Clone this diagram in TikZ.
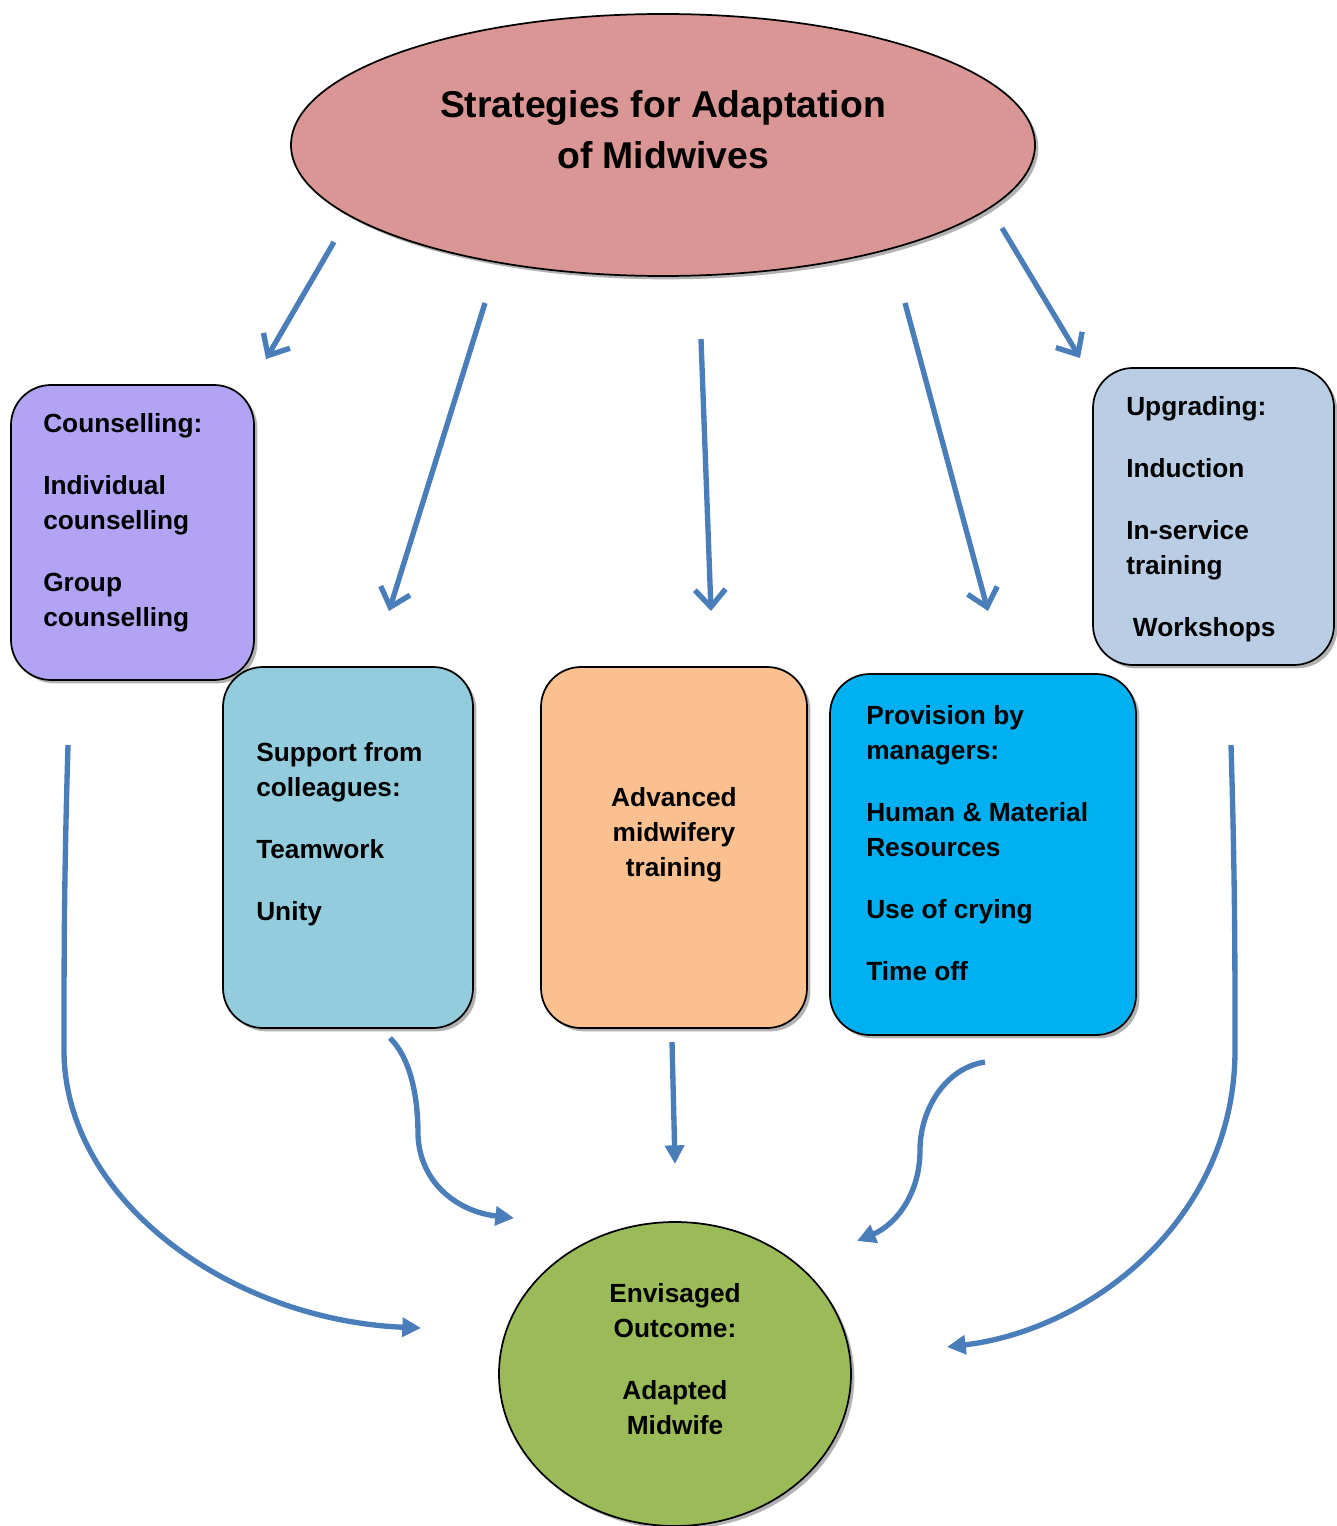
\documentclass[tikz,border=0pt]{standalone}
\usepackage{fontspec}
\setmainfont{Liberation Sans}
\usetikzlibrary{arrows.meta,shapes.geometric,shadows}
\definecolor{cred}{HTML}{D99694}
\definecolor{cpurple}{HTML}{B3A3F5}
\definecolor{ccyan}{HTML}{93CDDD}
\definecolor{corange}{HTML}{FAC090}
\definecolor{cblue}{HTML}{00B0F0}
\definecolor{csteel}{HTML}{B9CDE5}
\definecolor{cgreen}{HTML}{9BBB59}
\definecolor{arrowblue}{HTML}{4A7EBB}
\begin{document}
\begin{tikzpicture}[x=0.75pt,y=-0.75pt,
  shd/.style={drop shadow={shadow xshift=2.5pt,shadow yshift=-2.5pt,opacity=0.3,fill=black}},
  box/.style={draw=black,line width=1.3pt,rounded corners=30pt,inner sep=0pt,shd},
  oval/.style={ellipse,draw=black,line width=1.3pt,inner sep=0pt,shd},
  txt/.style={font=\fontsize{19.7}{26.25}\selectfont\bfseries,inner sep=0pt,align=left,anchor=north west},
  ctxt/.style={txt,align=center,anchor=north},
  conn/.style={draw=arrowblue,line width=4pt},
  barb/.style={conn,-{Straight Barb[length=13pt,width=23pt]}},
  tri/.style={conn,-{Triangle[length=14pt,width=14pt]}}]
\path[use as bounding box] (0,0) rectangle (1336,1526);

% shapes
\node[oval,fill=cred,minimum width=744*0.75pt,minimum height=262*0.75pt] (title) at (663,145) {};
\node[box,fill=cpurple,minimum width=243*0.75pt,minimum height=295*0.75pt] (couns) at (132.5,532.5) {};
\node[box,fill=csteel,minimum width=241*0.75pt,minimum height=297*0.75pt] (upgr) at (1213.5,516.5) {};
\node[box,fill=ccyan,minimum width=250*0.75pt,minimum height=361*0.75pt] (supp) at (348,847.5) {};
\node[box,fill=corange,minimum width=266*0.75pt,minimum height=361*0.75pt] (adv) at (674,847.5) {};
\node[box,fill=cblue,minimum width=306*0.75pt,minimum height=361*0.75pt] (prov) at (983,854.5) {};
\node[oval,fill=cgreen,minimum width=352*0.75pt,minimum height=304*0.75pt] (outc) at (675,1374) {};

% texts
\node[ctxt,font=\fontsize{28}{38.25}\selectfont\bfseries] (ttitle) at (663,90) {Strategies for Adaptation\\of Midwives};
\node[txt] (tcouns) at (43,413) {Counselling:\\[20.25pt]Individual\\counselling\\[20.25pt]Group\\counselling};
\node[txt] (tupgr) at (1126,396) {Upgrading:\\[20.25pt]Induction\\[20.25pt]In-service\\training\\[20.25pt]\hspace*{5pt}Workshops};
\node[txt] (tsupp) at (256,742) {Support from\\colleagues:\\[20.25pt]Teamwork\\[20.25pt]Unity};
\node[ctxt] (tadv) at (674,787) {Advanced\\midwifery\\training};
\node[txt] (tprov) at (866,705) {Provision by\\managers:\\[20.25pt]Human \& Material\\Resources\\[20.25pt]Use of crying\\[20.25pt]Time off};
\node[ctxt] (toutc) at (675,1283) {Envisaged\\Outcome:\\[20.25pt]Adapted\\Midwife};

% connector end points
\coordinate (a1s) at (334,242); \coordinate (a1e) at (266,359);
\coordinate (a2s) at (485,303); \coordinate (a2e) at (389,611);
\coordinate (a3s) at (701,339); \coordinate (a3e) at (711,611);
\coordinate (a4s) at (905,303); \coordinate (a4e) at (988,611);
\coordinate (a5s) at (1002,228); \coordinate (a5e) at (1080,358);
\coordinate (b1s) at (68,745); \coordinate (b1e) at (421,1328);
\coordinate (b2s) at (1231,745); \coordinate (b2e) at (947,1347);
\coordinate (b3s) at (390,1038); \coordinate (b3e) at (514,1218);
\coordinate (b4s) at (672,1042); \coordinate (b4e) at (675,1164);
\coordinate (b5s) at (985,1062); \coordinate (b5e) at (857,1241);

% top arrows
\draw[barb] (a1s) -- (a1e);
\draw[barb] (a2s) -- (a2e);
\draw[barb] (a3s) -- (a3e);
\draw[barb] (a4s) -- (a4e);
\draw[barb] (a5s) -- (a5e);

% bottom arrows
\draw[tri] (b1s) .. controls (64,880) and (64,960) .. (64,1050) .. controls (64,1200) and (230,1320) .. (b1e);
\draw[tri] (b2s) .. controls (1235,880) and (1235,960) .. (1235,1050) .. controls (1235,1220) and (1090,1330) .. (b2e);
\draw[tri] (b3s) .. controls (412,1060) and (418,1100) .. (418,1135) .. controls (420,1185) and (460,1212) .. (b3e);
\draw[tri] (b4s) -- (b4e);
\draw[tri] (b5s) .. controls (945,1068) and (920,1110) .. (920,1150) .. controls (920,1195) and (895,1225) .. (b5e);
\end{tikzpicture}
\end{document}
